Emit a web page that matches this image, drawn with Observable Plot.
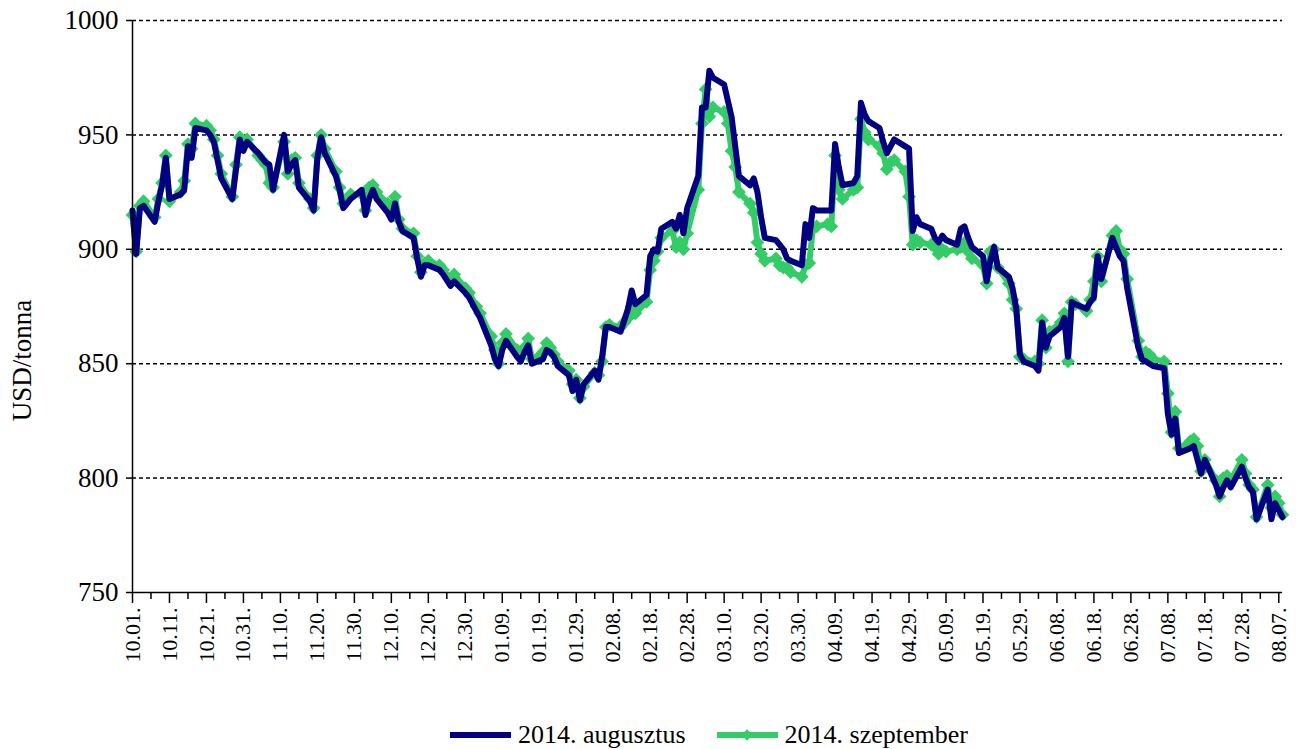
<!DOCTYPE html>
<html><head><meta charset="utf-8">
<script src="https://cdn.jsdelivr.net/npm/d3@7"></script>
<script src="https://cdn.jsdelivr.net/npm/@observablehq/plot@0.6"></script>
<style>
body{margin:0;background:#fff;font-family:"Liberation Serif","Times New Roman",serif;}
#chart{position:relative;width:1296px;height:749px;overflow:hidden;}
#legend{position:absolute;left:450px;top:720px;height:30px;display:flex;align-items:center;font-size:26px;color:#000;white-space:nowrap;}
.item{display:flex;align-items:center;}
.sw{position:relative;width:61px;height:6px;margin-right:7px;}
.sw .diam{position:absolute;left:26.5px;top:-1px;width:8px;height:8px;transform:rotate(45deg);}
</style></head><body>
<div id="chart"></div>
<script>
// ---- data ----
const seriesNames = ["2014. augusztus", "2014. szeptember"];
const firstDay = "2013-10-01";
const lastDay = "2014-08-08";
const holidays = ["2013-12-25", "2014-01-01"];
// trading-day values (weekdays, Oct 2013 .. Aug 2014)
const augusztus = [
  // Oct
  917,898,918,919, 912,921,928,940,922, 924,926,945,940,953, 952,950,947,939,931, 922,935,948,943,
  // Nov
  947, 942,940,938,937,926, 950,934,937,939,927, 921,917,940,949,942, 932,926,918,920,922,
  // Dec
  926,915,922,926,922, 916,913,920,912,908, 905,896,888,893,893, 891,889,884,886, 881,879,
  // Jan
  873,870, 858,852,849,856,860, 853,851,855,858,850, 852,856,855,853,849, 845,838,843,834,841,
  // Feb
  847,843,853,866,866, 864,869,874,882,876, 880,897,900,899,909, 912,909,915,907,918,
  // Mar
  932,962,962,978,975, 972,965,958,945,932, 928,931,925,914,905, 904,902,900,896,895, 893,
  // Apr
  911,905,918,917, 917,917,946,936,928, 929,932,964,959,956, 953,947,942,945,948, 945,944,908,
  // May
  914,911, 909,905,903,906,904, 902,909,910,905,901, 897,886,895,901,892, 888,883,874,854,851,
  // Jun
  849,847,868,857,862, 866,870,853,877,876, 874,877,879,897,887, 905,901,897,895,883, 857,
  // Jul
  852,851,850,849, 848,828,819,826,811, 813,814,808,802,808, 797,792,796,799,796, 805,800,796,794,
  // Aug
  782, 795,782,789,786,783
];
const szeptember = [
  // Oct
  915,899,919,921, 914,922,929,941,921, 925,930,946,944,955, 954,952,948,941,933, 923,937,949,946,
  // Nov
  948, 941,939,937,929,927, 947,933,939,940,929, 922,918,941,950,944, 934,927,920,922,924,
  // Dec
  924,917,927,928,925, 920,917,923,913,909, 907,897,890,894,895, 893,891,887,889, 883,881,
  // Jan
  875,872, 862,856,850,859,863, 856,854,857,861,852, 855,859,857,854,851, 847,841,843,835,840,
  // Feb
  846,845,851,866,867, 866,868,870,875,872, 877,891,895,899,905, 908,901,903,900,907,
  // Mar
  926,955,970,958,962, 960,955,943,936,925, 920,916,903,898,895, 896,893,892,892,890, 888,
  // Apr
  893,894,909,910, 911,910,941,926,922, 926,927,957,951,948, 945,942,935,938,939, 934,923,902,
  // May
  904,903, 902,901,898,900,899, 900,901,903,899,896, 893,885,899,900,892, 885,878,874,853,852,
  // Jun
  851,850,869,857,864, 868,872,851,877,876, 873,878,886,897,886, 906,908,900,898,887, 860,
  // Jul
  853,855,854,852, 851,837,820,829,813, 816,817,814,803,808, 799,792,800,801,799, 808,802,797,795,
  // Aug
  783, 797,787,792,789,784
];
const tickDates = ["2013-10-01","2013-10-11","2013-10-21","2013-10-31","2013-11-10","2013-11-20","2013-11-30",
  "2013-12-10","2013-12-20","2013-12-30","2014-01-09","2014-01-19","2014-01-29","2014-02-08","2014-02-18",
  "2014-02-28","2014-03-10","2014-03-20","2014-03-30","2014-04-09","2014-04-19","2014-04-29","2014-05-09",
  "2014-05-19","2014-05-29","2014-06-08","2014-06-18","2014-06-28","2014-07-08","2014-07-18","2014-07-28","2014-08-07"];
const yTicks = [750, 800, 850, 900, 950, 1000];
const gridValues = [800, 850, 900, 950, 1000];
const yLabel = "USD/tonna";

// ---- build ----
const NAVY = "#000080", GREEN = "#33cc66";
const fmt = d3.utcFormat("%Y-%m-%d");
const days = d3.utcDays(new Date(firstDay), d3.utcDay.offset(new Date(lastDay), 1))
  .filter(d => d.getUTCDay() % 6 !== 0 && !holidays.includes(fmt(d)));
const rowsAug = days.map((d, i) => ({date: d, value: augusztus[i]})).filter(r => r.value != null);
const rowsSep = days.map((d, i) => ({date: d, value: szeptember[i]})).filter(r => r.value != null);
const majorTicks = tickDates.map(s => new Date(s));
const minorTicks = majorTicks.slice(0, -1).map(d => d3.utcDay.offset(d, 5));
const xStart = new Date(firstDay);
const xEnd = new Date(lastDay);

// square diamond (rotated square) marker
const squareDiamond = {
  draw(context, size) {
    const h = Math.sqrt(size / Math.PI) * 1.15;
    context.moveTo(0, -h);
    context.lineTo(h, 0);
    context.lineTo(0, h);
    context.lineTo(-h, 0);
    context.closePath();
  }
};

const chart = Plot.plot({
  width: 1296, height: 720,
  marginTop: 20, marginBottom: 128, marginLeft: 132, marginRight: 14,
  style: {fontFamily: "'Liberation Serif','Times New Roman',serif", fontSize: "26px", background: "white", color: "black", overflow: "visible"},
  x: {type: "utc", domain: [xStart, xEnd]},
  y: {domain: [750, 1000]},
  marks: [
    Plot.ruleY(gridValues, {stroke: "black", strokeWidth: 1.5, strokeDasharray: "4,3"}),
    Plot.line(rowsSep, {x: "date", y: "value", stroke: GREEN, strokeWidth: 6}),
    Plot.dot(rowsSep, {x: "date", y: "value", symbol: squareDiamond, r: 6, fill: GREEN, stroke: "none"}),
    Plot.line(rowsAug, {x: "date", y: "value", stroke: NAVY, strokeWidth: 6, strokeLinejoin: "round"}),
    Plot.ruleX([xStart], {stroke: "black", strokeWidth: 1.5}),
    Plot.ruleY([750], {stroke: "black", strokeWidth: 1.5}),
    Plot.axisY({ticks: yTicks, tickSize: 6, tickPadding: 8, fontSize: 27, tickFormat: d => String(d), label: null, strokeWidth: 1.5}),
    Plot.axisX({ticks: majorTicks, tickSize: 11, tickPadding: 4, tickRotate: -90, fontSize: 22,
      tickFormat: d => d3.utcFormat("%m.%d.")(d), label: null, strokeWidth: 1.5}),
    Plot.axisX({ticks: minorTicks, tickSize: 7, tickFormat: () => "", label: null, strokeWidth: 1.5}),
    Plot.text([yLabel], {text: d => d, frameAnchor: "left", dx: -110, dy: 54, rotate: -90, textAnchor: "middle", fontSize: 27, fill: "black"})
  ]
});
const host = document.getElementById("chart");
host.appendChild(chart);

const legend = document.createElement("div");
legend.id = "legend";
legend.innerHTML =
  `<div class="item"><div class="sw" style="background:${NAVY}"></div><span>${seriesNames[0]}</span></div>` +
  `<div class="item" style="margin-left:31px"><div class="sw" style="background:${GREEN}"><div class="diam" style="background:${GREEN}"></div></div><span>${seriesNames[1]}</span></div>`;
host.appendChild(legend);
</script>
</body></html>
